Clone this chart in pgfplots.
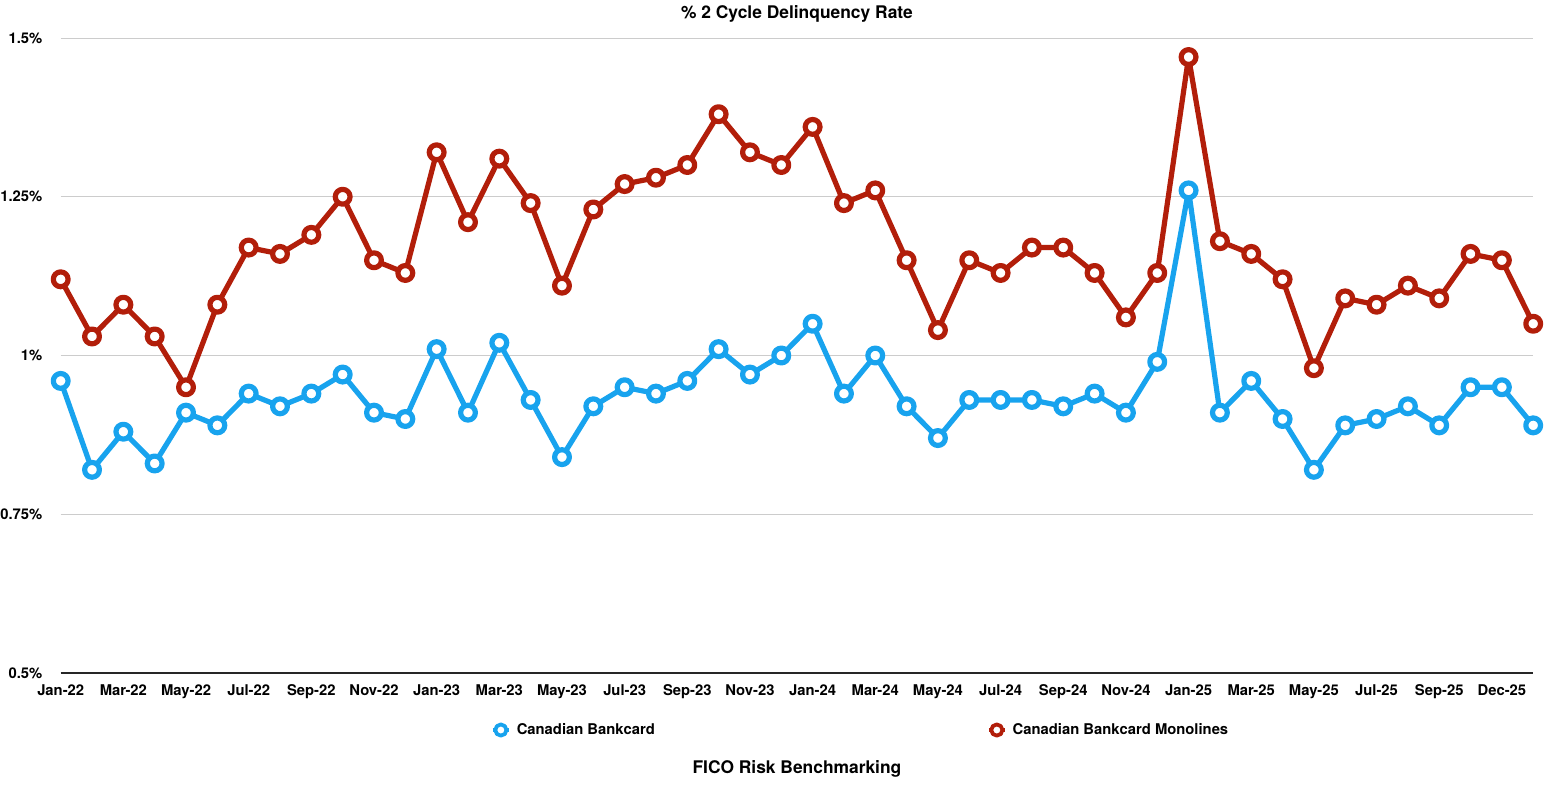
\documentclass[border=0pt]{standalone}
\usepackage{fontspec}
\setmainfont{TeX Gyre Heros}
\usepackage{pgfplots}
\pgfplotsset{compat=1.18}
\definecolor{cbblue}{RGB}{24,163,238}
\definecolor{cbred}{RGB}{178,30,10}
\newcommand{\tickfont}{\fontsize{7.4}{9}\selectfont\bfseries}
\newcommand{\titlefont}{\fontsize{8.7}{10}\selectfont\bfseries}
\begin{document}
\begin{tikzpicture}
\useasboundingbox (-30.35pt,-55.5pt) rectangle (748.65pt,336.5pt);
\begin{axis}[
  scale only axis, width=736.25pt, height=317.5pt,
  xmin=0, xmax=47, ymin=0.5, ymax=1.5,
  clip=false,
  axis x line*=bottom, axis y line*=left,
  y axis line style={draw=none},
  x axis line style={draw=black!85, line width=0.6pt},
  major tick length=0pt,
  ytick={0.5,0.75,1,1.25,1.5},
  yticklabels={0.5\%,0.75\%,1\%,1.25\%,1.5\%},
  xtick={0,2,...,46},
  xticklabels={Jan-22,Mar-22,May-22,Jul-22,Sep-22,Nov-22,Jan-23,Mar-23,May-23,Jul-23,Sep-23,Nov-23,Jan-24,Mar-24,May-24,Jul-24,Sep-24,Nov-24,Jan-25,Mar-25,May-25,Jul-25,Sep-25,Dec-25},
  ymajorgrids, grid style={draw=black!20, line width=0.5pt},
  tick label style={font=\tickfont},
  yticklabel style={anchor=east, inner sep=0pt, xshift=-9pt},
  xticklabel style={anchor=base, inner sep=0pt, yshift=-11.2pt},
  title={\% 2 Cycle Delinquency Rate},
  title style={font=\titlefont, at={(axis description cs:0.5,1)}, anchor=base, yshift=4pt, inner sep=0pt},
  xlabel={FICO Risk Benchmarking},
  xlabel style={font=\titlefont, at={(axis description cs:0.5,0)}, anchor=base, yshift=-50pt, inner sep=0pt},
  legend columns=2,
  legend style={draw=none, fill=none, font=\tickfont, inner sep=0pt, outer sep=0pt,
    nodes={inner sep=0pt},
    at={(axis description cs:0.2922,-0.0898)}, anchor=west,
    /tikz/every odd column/.append style={column sep=3pt},
    /tikz/every even column/.append style={column sep=166pt}},
  legend image code/.code={
    \draw[#1, line width=1.9pt] (0pt,0pt) -- (8pt,0pt);
    \draw[#1, mark size=2.8pt, mark options={line width=1.9pt, fill=white}] plot coordinates {(4pt,0pt)};
  },
]
\addplot[cbblue, line width=2.6pt, line join=round, mark=*, mark size=3.7pt,
  mark options={fill=white, draw=cbblue, line width=2.6pt}] coordinates {
(0,0.96) (1,0.82) (2,0.88) (3,0.83) (4,0.91) (5,0.89) (6,0.94) (7,0.92) (8,0.94) (9,0.97) (10,0.91) (11,0.90)
(12,1.01) (13,0.91) (14,1.02) (15,0.93) (16,0.84) (17,0.92) (18,0.95) (19,0.94) (20,0.96) (21,1.01) (22,0.97) (23,1.00)
(24,1.05) (25,0.94) (26,1.00) (27,0.92) (28,0.87) (29,0.93) (30,0.93) (31,0.93) (32,0.92) (33,0.94) (34,0.91) (35,0.99)
(36,1.26) (37,0.91) (38,0.96) (39,0.90) (40,0.82) (41,0.89) (42,0.90) (43,0.92) (44,0.89) (45,0.95) (46,0.95) (47,0.89)
};
\addlegendentry{Canadian Bankcard}
\addplot[cbred, line width=2.6pt, line join=round, mark=*, mark size=3.7pt,
  mark options={fill=white, draw=cbred, line width=2.6pt}] coordinates {
(0,1.12) (1,1.03) (2,1.08) (3,1.03) (4,0.95) (5,1.08) (6,1.17) (7,1.16) (8,1.19) (9,1.25) (10,1.15) (11,1.13)
(12,1.32) (13,1.21) (14,1.31) (15,1.24) (16,1.11) (17,1.23) (18,1.27) (19,1.28) (20,1.30) (21,1.38) (22,1.32) (23,1.30)
(24,1.36) (25,1.24) (26,1.26) (27,1.15) (28,1.04) (29,1.15) (30,1.13) (31,1.17) (32,1.17) (33,1.13) (34,1.06) (35,1.13)
(36,1.47) (37,1.18) (38,1.16) (39,1.12) (40,0.98) (41,1.09) (42,1.08) (43,1.11) (44,1.09) (45,1.16) (46,1.15) (47,1.05)
};
\addlegendentry{Canadian Bankcard Monolines}
\end{axis}
\end{tikzpicture}
\end{document}
